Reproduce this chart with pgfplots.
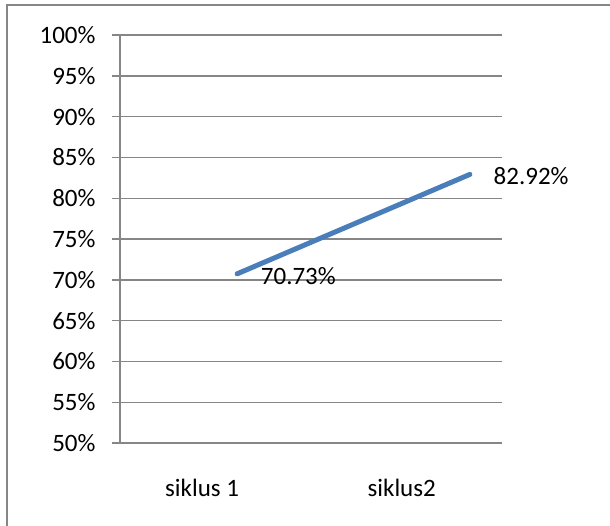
\documentclass[border=0pt]{standalone}
\usepackage{pgfplots}
\pgfplotsset{compat=1.18}
\usepackage{fontspec}
\setmainfont{Carlito}
\definecolor{gridgray}{HTML}{868686}
\definecolor{lineblue}{HTML}{4A7EBB}
\begin{document}
\begin{tikzpicture}
\useasboundingbox (0bp,0bp) rectangle (610bp,-526bp);
\draw[gridgray, line width=2.5bp] (7bp,-540bp) -- (7bp,-5bp) -- (625bp,-5bp);
\begin{axis}[
  at={(120bp,-443bp)}, anchor=south west,
  scale only axis, width=382bp, height=408bp,
  xmin=0, xmax=2, ymin=50, ymax=100,
  axis x line=bottom, axis y line=left,
  axis line style={gridgray, line width=1.4bp, -},
  ytick={50,55,60,65,70,75,80,85,90,95,100},
  yticklabels={50\%,55\%,60\%,65\%,70\%,75\%,80\%,85\%,90\%,95\%,100\%},
  ymajorgrids, grid style={gridgray, line width=1.4bp},
  tick align=outside,
  ytick style={gridgray, line width=1.4bp},
  major tick length=8bp,
  xtick={0.43,1.475},
  xticklabels={siklus 1,siklus2},
  xtick style={draw=none},
  extra x ticks={0,1,2},
  extra x tick labels={},
  extra x tick style={tick style={gridgray, line width=1.4bp, draw=gridgray}, major tick length=8bp},
  ticklabel style={font=\fontsize{25bp}{30bp}\selectfont},
  yticklabel style={xshift=-13bp},
  xticklabel style={yshift=-25bp},
  clip=false,
]
\addplot[lineblue, line width=5bp, line cap=round,
  nodes near coords, point meta=explicit symbolic,
  every node near coord/.append style={anchor=west, xshift=18bp, yshift=-2bp, text=black, font=\fontsize{25bp}{30bp}\selectfont}]
  table[meta=label] {
x y label
0.613 70.73 70.73\%
1.832 82.92 82.92\%
};
\end{axis}
\end{tikzpicture}
\end{document}
